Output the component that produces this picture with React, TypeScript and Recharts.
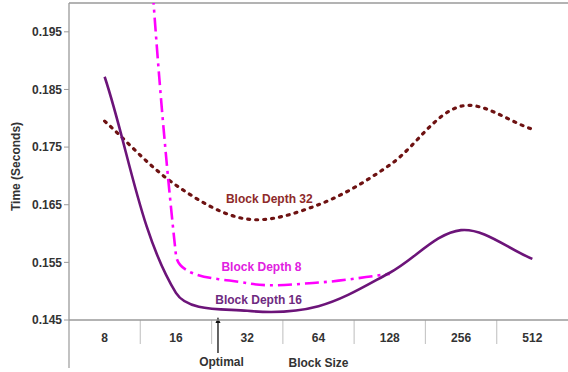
import { LineChart, Line, XAxis, YAxis, ReferenceLine, ReferenceDot } from "recharts"

const blockSizes = ["8", "16", "32", "64", "128", "256", "512"]
const depth8 = [0.38, 0.1563, 0.1514, 0.1515, 0.153, null, null]
const depth16 = [0.1872, 0.1497, 0.1466, 0.1474, 0.1532, 0.1606, 0.1556]
const depth32 = [0.1795, 0.1684, 0.1625, 0.165, 0.1719, 0.1821, 0.1781]
const yTicks = [0.145, 0.155, 0.165, 0.175, 0.185, 0.195]

const Y_MIN = 0.145
const Y_MAX = 0.2
const FONT = "'Liberation Sans', Arial, sans-serif"
const AXIS = "#9a9a9a"

const rows = blockSizes.map((size, i) => ({
  size,
  pos: i + 0.5,
  d8: depth8[i],
  d16: depth16[i],
  d32: depth32[i],
}))

// Excel-like smoothing: bezier handles weighted by neighbouring segment lengths
const excelSmooth = (context: any) => {
  let pts: [number, number][] = []
  return {
    areaStart() {},
    areaEnd() {},
    lineStart() {
      pts = []
    },
    lineEnd() {
      const n = pts.length
      if (!n) return
      context.moveTo(pts[0][0], pts[0][1])
      if (n === 2) context.lineTo(pts[1][0], pts[1][1])
      if (n < 3) return
      const dist = (a: number[], b: number[]) => Math.hypot(b[0] - a[0], b[1] - a[1])
      const h = pts.map((p, i) => {
        const prev = pts[Math.max(i - 1, 0)]
        const next = pts[Math.min(i + 1, n - 1)]
        const d0 = dist(prev, p)
        const d1 = dist(p, next)
        const s = d0 + d1 || 1
        const dx = next[0] - prev[0]
        const dy = next[1] - prev[1]
        return {
          ix: p[0] - (dx * d0) / s / 3,
          iy: p[1] - (dy * d0) / s / 3,
          ox: p[0] + (dx * d1) / s / 3,
          oy: p[1] + (dy * d1) / s / 3,
        }
      })
      for (let i = 0; i < n - 1; i++) {
        context.bezierCurveTo(h[i].ox, h[i].oy, h[i + 1].ix, h[i + 1].iy, pts[i + 1][0], pts[i + 1][1])
      }
    },
    point(x: number, y: number) {
      pts.push([+x, +y])
    },
  }
}

const tickText = { fontFamily: FONT, fontSize: 12, fontWeight: 700, fill: "#333" }

const Arrow = (props: any) => {
  const { x1, y1, x2, y2 } = props
  const top = Math.min(y1, y2)
  const bottom = Math.max(y1, y2)
  return (
    <g>
      <line x1={x1} x2={x2} y1={bottom} y2={top + 4} stroke="#111" strokeWidth={1.3} />
      <path d={`M${x1 - 2.5},${top + 6} L${x1},${top} L${x1 + 2.5},${top + 6} Z`} fill="#111" />
    </g>
  )
}

const YTitle = (props: any) => {
  const { x, y, height } = props.viewBox
  const cx = x + 17
  const cy = y + height / 2 + 5
  return (
    <text transform={`translate(${cx},${cy}) rotate(-90)`} textAnchor="middle" dominantBaseline="middle" style={tickText}>
      Time (Seconds)
    </text>
  )
}

const annot = (value: string, fill: string) => ({
  value,
  position: "center" as const,
  fill,
  fontFamily: FONT,
  fontSize: 12,
  fontWeight: 700,
})

export default function App() {
  const px = (Y_MAX - Y_MIN) / 317
  return (
    <div style={{ position: "absolute", left: 0, top: 0, background: "#fff" }}>
      <LineChart width={568} height={372} data={rows} margin={{ top: 3, right: 0, bottom: 0, left: 0 }}>
        <XAxis
          dataKey="pos"
          type="number"
          domain={[0, blockSizes.length]}
          ticks={rows.map((r) => r.pos)}
          interval={0}
          tickFormatter={(v: number) => blockSizes[Math.floor(v)]}
          height={52}
          axisLine={{ stroke: AXIS, strokeWidth: 1.3 }}
          tickLine={false}
          tickSize={0}
          tickMargin={13}
          tick={tickText}
          label={{ value: "Block Size", position: "insideBottom", offset: 5, ...tickText }}
        />
        <YAxis
          type="number"
          domain={[Y_MIN, Y_MAX]}
          allowDataOverflow
          ticks={yTicks}
          interval={0}
          tickFormatter={(v: number) => v.toFixed(3)}
          width={69}
          tickSize={5}
          tickMargin={2}
          axisLine={{ stroke: AXIS, strokeWidth: 1.3 }}
          tickLine={{ stroke: AXIS }}
          tick={tickText}
          label={{ content: <YTitle /> }}
        />
        <ReferenceLine y={Y_MAX} stroke={AXIS} strokeWidth={1.3} ifOverflow="visible" />
        {blockSizes.map((_, k) => (
          <ReferenceLine
            key={k}
            ifOverflow="visible"
            stroke={k === 0 ? AXIS : "#c8c8c8"}
            strokeWidth={1.2}
            segment={[
              { x: k, y: Y_MIN },
              { x: k, y: Y_MIN - (k === 0 ? 48 : 24) * px },
            ]}
          />
        ))}
        <ReferenceLine
          ifOverflow="visible"
          segment={[
            { x: 2.09, y: Y_MIN - 33 * px },
            { x: 2.09, y: Y_MIN + 3 * px },
          ]}
          shape={<Arrow />}
        />
        <ReferenceDot x={2.14} y={Y_MIN - 42 * px} r={0} ifOverflow="visible" label={annot("Optimal", "#333")} />

        <Line
          dataKey="d32"
          type={excelSmooth as any}
          stroke="#6e1212"
          strokeWidth={3.2}
          strokeDasharray="2 6"
          strokeLinecap="round"
          dot={false}
          activeDot={false}
          isAnimationActive={false}
        />
        <Line
          dataKey="d8"
          type={excelSmooth as any}
          stroke="#ff00ff"
          strokeWidth={2.6}
          strokeDasharray="14 5 3 5"
          dot={false}
          activeDot={false}
          isAnimationActive={false}
        />
        <Line
          dataKey="d16"
          type={excelSmooth as any}
          stroke="#6c1479"
          strokeWidth={2.6}
          dot={false}
          activeDot={false}
          isAnimationActive={false}
        />

        <ReferenceDot x={2.81} y={Y_MIN + 121 * px} r={0} ifOverflow="visible" label={annot("Block Depth 32", "#8e2a2a")} />
        <ReferenceDot x={2.70} y={Y_MIN + 53 * px} r={0} ifOverflow="visible" label={annot("Block Depth 8", "#e020e0")} />
        <ReferenceDot x={2.66} y={Y_MIN + 20 * px} r={0} ifOverflow="visible" label={annot("Block Depth 16", "#6e2a80")} />
      </LineChart>
    </div>
  )
}
